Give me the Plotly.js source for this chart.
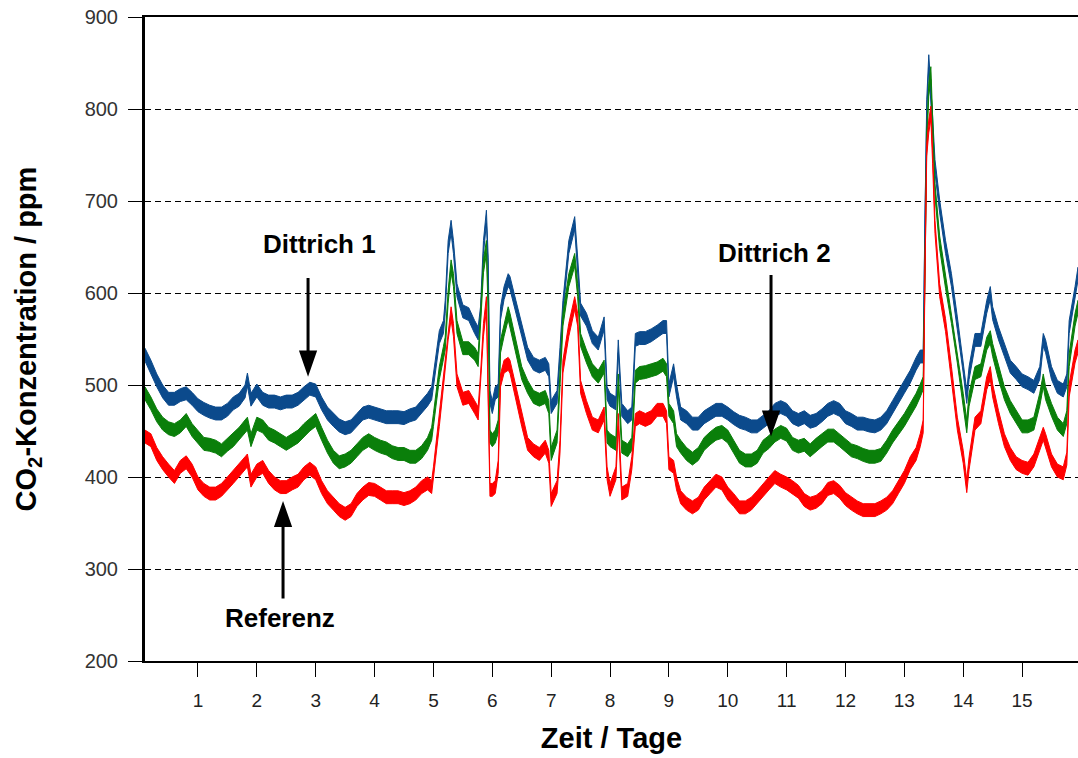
<!DOCTYPE html>
<html>
<head>
<meta charset="utf-8">
<script src="https://cdn.plot.ly/plotly-3.0.1.min.js"></script>
<style>html,body{margin:0;padding:0;background:#fff;}#chart{width:1078px;height:758px;}</style>
</head>
<body>
<div id="chart"></div>
<script>
// Time in days
const days = [0.1,0.2,0.3,0.4,0.5,0.6,0.7,0.8,0.9,1.0,1.1,1.2,1.3,1.4,1.5,1.6,1.7,1.8,1.84,1.9,2.0,2.1,2.2,2.3,2.4,2.5,2.6,2.7,2.8,2.9,
3.0,3.1,3.2,3.3,3.4,3.5,3.6,3.7,3.8,3.9,4.0,4.1,4.2,4.3,4.4,4.5,4.6,4.7,4.8,4.9,4.97,5.0,5.1,5.17,5.2,5.25,5.3,5.34,5.4,5.5,5.6,
5.7,5.76,5.8,5.85,5.9,5.93,5.96,6.0,6.05,6.1,6.14,6.2,6.27,6.3,6.4,6.5,6.6,6.7,6.8,6.9,6.96,7.0,7.1,7.15,7.2,7.3,7.4,7.45,7.5,7.6,7.7,7.8,7.9,7.95,8.0,8.1,8.14,8.2,
8.3,8.37,8.43,8.5,8.6,8.7,8.8,8.9,8.96,9.0,9.08,9.13,9.2,9.3,9.4,9.5,9.6,9.7,9.8,9.9,10.0,10.1,10.2,10.3,10.4,10.5,10.6,10.7,10.8,10.9,11.0,
11.1,11.2,11.3,11.4,11.5,11.6,11.7,11.8,11.9,12.0,12.1,12.2,12.3,12.4,12.5,12.6,12.7,12.8,12.9,13.0,13.1,13.2,13.27,13.32,13.35,13.38,13.415,13.45,13.48,13.52,
13.6,13.7,13.8,13.9,14.0,14.06,14.1,14.2,14.3,14.4,14.46,14.5,14.6,14.7,14.8,14.9,15.0,15.1,15.2,15.3,15.36,15.4,15.5,15.6,15.7,15.76,15.8,15.9,15.95];

// CO2 concentration (ppm), centre of the noisy signal
const dittrich1 = [533,520,505,493,485,485,489,491,485,478,474,471,469,469,473,480,484,493,506,484,494,485,482,482,480,482,482,485,491,496,
494,480,469,462,456,453,455,462,469,471,469,467,465,465,465,464,467,469,476,484,491,505,552,563,585,650,672,650,603,580,577,
563,556,578,650,683,632,487,476,491,494,578,600,614,611,585,560,534,523,520,523,516,476,487,534,585,650,676,632,582,571,552,545,567,491,484,480,542,473,
465,469,549,551,551,554,558,563,563,494,516,494,469,465,458,458,465,469,473,473,469,464,460,458,455,455,460,465,473,476,473,
465,462,465,460,462,467,473,476,473,465,462,458,458,456,455,458,465,476,487,498,509,523,531,531,694,803,852,821,785,738,
694,650,614,567,520,487,513,549,549,585,600,578,556,538,520,513,505,502,498,513,549,542,513,498,494,505,563,600,621];

const dittrich2 = [491,480,467,458,453,451,455,462,451,444,436,435,433,429,435,440,447,455,458,440,458,455,447,444,440,436,440,444,451,457,
462,447,433,422,416,418,422,429,436,440,436,433,431,427,425,425,422,422,427,436,447,462,513,535,545,596,629,614,563,540,540,
534,527,571,629,650,585,444,440,444,455,542,560,578,571,542,513,498,487,484,487,476,425,444,505,571,614,636,603,549,531,516,509,520,444,440,436,505,433,
429,436,509,513,514,516,518,522,516,473,465,440,433,425,420,425,436,442,447,449,444,433,422,418,418,422,433,438,445,449,446,
436,433,435,429,435,440,445,445,440,435,429,427,424,422,422,424,433,444,453,462,473,484,494,502,621,767,821,839,785,712,
655,612,574,531,484,455,484,513,516,545,552,538,513,491,476,465,455,455,458,484,505,491,473,458,451,465,527,571,585];

const referenz = [444,440,425,415,407,400,411,416,407,393,386,382,382,386,393,400,407,415,418,396,407,411,400,393,389,389,393,396,404,409,
404,389,378,371,364,360,364,375,382,387,386,382,378,378,378,376,378,382,389,393,389,404,462,505,520,556,578,560,505,485,487,
476,469,505,560,589,505,386,386,389,411,505,520,523,520,491,462,436,429,425,433,422,375,389,433,520,560,589,571,498,476,458,455,469,404,386,404,462,382,
386,415,462,465,462,465,473,473,465,415,411,393,378,371,367,371,382,389,396,393,382,375,367,367,371,378,386,393,400,396,393,
389,384,375,371,373,378,387,389,384,376,371,367,364,364,364,367,371,378,389,400,415,425,440,455,621,756,781,796,748,672,
603,565,513,458,422,390,415,458,465,502,513,494,465,440,425,415,411,409,418,436,447,440,418,407,404,420,494,531,542];

const seriesNames = ['Dittrich 1','Dittrich 2','Referenz'];
const seriesColors = ['#0B4A8C','#0A7F0A','#FF0000'];
const seriesValues = [dittrich1, dittrich2, referenz];
const noiseHalfWidth = 7; // visual thickness of the noisy trace (ppm)

const xTicks = [1,2,3,4,5,6,7,8,9,10,11,12,13,14,15];

// Label texts and where their arrows point (day, ppm)
const labelTexts = ['Dittrich 1','Referenz','Dittrich 2'];
const labelPos = [[3.07, 653], [2.39, 247], [10.80, 643]];
const arrowTips = [[2.87, 514], [2.445, 369], [10.735, 449]];

const traces = seriesValues.map((vals, i) => {
  const upper = vals.map(v => v + noiseHalfWidth);
  const lower = vals.map(v => v - noiseHalfWidth);
  return {
    type: 'scatter', mode: 'lines', name: seriesNames[i],
    x: days.concat(days.slice().reverse()),
    y: upper.concat(lower.slice().reverse()),
    fill: 'toself', fillcolor: seriesColors[i],
    line: {color: seriesColors[i], width: 1},
    hoverinfo: 'skip', showlegend: false
  };
});

const font = 'Liberation Sans, Arial, sans-serif';

// arrow paths in pixels relative to the tip (positive = up)
const arrowPaths = [
  'M -7 20 L 7 20 L 0 0 Z M 0 20 L 0 94',
  'M -7 -20 L 7 -20 L 0 0 Z M 0 -20 L 0 -93',
  'M -7 20 L 7 20 L 0 0 Z M 0 20 L 0 157'
];
const shapes = arrowTips.map((t, i) => ({
  type: 'path', xref: 'x', yref: 'y', xsizemode: 'pixel', ysizemode: 'pixel',
  xanchor: t[0], yanchor: t[1], path: arrowPaths[i],
  fillcolor: '#000', line: {color: '#000', width: 3}
}));

const annotations = labelTexts.map((txt, i) => ({
  x: labelPos[i][0], y: labelPos[i][1], xref: 'x', yref: 'y', text: txt, showarrow: false,
  font: {family: font, size: 26, weight: 'bold', color: '#000'}
}));

const layout = {
  width: 1078, height: 758,
  margin: {l: 145, r: 0, t: 17, b: 97, pad: 0},
  paper_bgcolor: '#fff', plot_bgcolor: '#fff',
  showlegend: false,
  font: {family: font, color: '#000'},
  xaxis: {
    range: [0.1, 15.95], tickvals: xTicks, ticktext: xTicks.map(String),
    ticks: 'outside', ticklen: 14, tickwidth: 1, tickcolor: '#000',
    ticklabelstandoff: 7,
    showline: true, linewidth: 2, linecolor: '#000', mirror: true,
    showgrid: false, zeroline: false,
    tickfont: {family: font, size: 19, color: '#222'},
    title: {text: 'Zeit / Tage', font: {family: font, size: 29, weight: 'bold', color: '#000'}, standoff: 18}
  },
  yaxis: {
    range: [200, 900], dtick: 100, tick0: 200,
    ticks: 'outside', ticklen: 14, tickwidth: 1, tickcolor: '#000',
    ticklabelstandoff: 6,
    showline: true, linewidth: 3, linecolor: '#000',
    showgrid: true, gridcolor: '#000', gridwidth: 1, griddash: '6px,4px',
    zeroline: false,
    tickfont: {family: font, size: 20, color: '#333'},
    title: {text: 'CO<sub>2</sub>-Konzentration / ppm', font: {family: font, size: 29, weight: 'bold', color: '#000'}, standoff: 40}
  },
  shapes: shapes,
  annotations: annotations
};

Plotly.newPlot('chart', traces, layout, {displayModeBar: false, staticPlot: true});
</script>
</body>
</html>
